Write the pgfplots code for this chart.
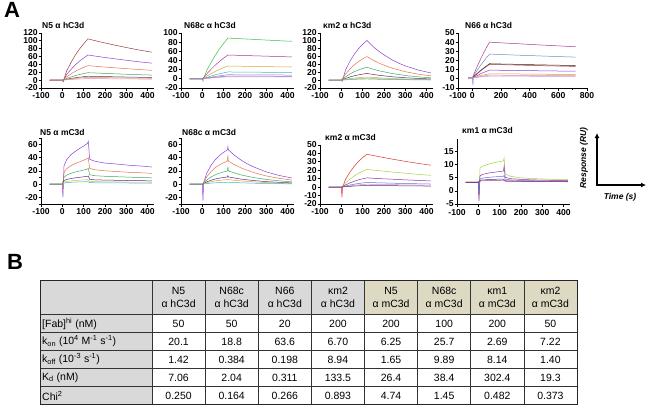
\documentclass[border=0pt]{standalone}
\usepackage{pgfplots}
\pgfplotsset{compat=1.18}
\usepackage{fontspec}
\setmainfont{Liberation Sans}
\usetikzlibrary{arrows.meta}

\definecolor{brn}{HTML}{9B3B3B}
\definecolor{vio}{HTML}{8B3FD9}
\definecolor{sal}{HTML}{E8704A}
\definecolor{grn}{HTML}{3DAA5C}
\definecolor{dpu}{HTML}{5A2A82}
\definecolor{org}{HTML}{E0A030}
\definecolor{pnk}{HTML}{D890B0}
\definecolor{lgr}{HTML}{3CC23C}
\definecolor{mag}{HTML}{A83A8A}
\definecolor{gld}{HTML}{D9A62A}
\definecolor{cyn}{HTML}{3CB8D0}
\definecolor{lvi}{HTML}{B070E0}
\definecolor{blu}{HTML}{5A70D8}
\definecolor{rd}{HTML}{E03030}
\definecolor{ygn}{HTML}{A8D040}
\definecolor{ppl}{HTML}{9030A0}
\definecolor{stb}{HTML}{6A8FD0}
\definecolor{drk}{HTML}{3A2020}
\definecolor{yel}{HTML}{D0C040}
\definecolor{lav}{HTML}{C0A0E0}
\definecolor{hgrey}{HTML}{D9D9D9}
\definecolor{beige}{HTML}{DDD9C3}

\pgfplotsset{
  spr/.style={
    scale only axis,
    axis lines=left,
    axis line style={-, line width=0.9pt},
    every tick/.append style={black, line width=0.8pt},
    tick align=outside,
    major tick length=2.5pt,
    minor tick length=1.6pt,
    ticklabel style={font=\bfseries\fontsize{8.6}{9}\selectfont, inner sep=0.6pt},
    xticklabel style={yshift=-1.2pt},
    /pgf/number format/assume math mode=true,
    /pgf/number format/1000 sep={},
    xmin=-100, xmax=430, xtick={-100,0,100,200,300,400},
    width=113pt,
    every axis plot/.append style={line width=0.5pt, mark=none},
    anchor=south west,
  },
  toprow/.style={height=55pt},
}

\begin{document}
\begin{tikzpicture}
\useasboundingbox (0pt,0pt) rectangle (650pt,-407pt);

% ---------- Panel 1: N5 a hC3d ----------
\begin{axis}[spr, toprow, at={(41pt,-88pt)}, ymin=-20, ymax=120, ytick={-20,0,...,120}]
\addplot[brn] coordinates {(-60,0)(0,0)(4,-4)(20,23.1)(40,44.1)(60,63)(80,78.8)(100,92.4)(120,105)(180,97.1)(240,89.9)(300,83)(360,76.7)(420,71.1)};
\addplot[vio] coordinates {(-60,0)(0,0)(4,-3)(20,14.1)(40,26.9)(60,38.4)(80,48)(100,56.3)(120,64)(180,59.2)(240,54.8)(300,50.6)(360,46.7)(420,43.3)};
\addplot[sal] coordinates {(-60,0)(0,0)(20,8.1)(40,15.5)(60,22.2)(80,27.8)(100,32.6)(120,37)(180,34.2)(240,31.7)(300,29.2)(360,27)(420,25)};
\addplot[grn] coordinates {(-60,0)(0,0)(20,4.2)(40,8)(60,11.4)(80,14.3)(100,16.7)(120,19)(180,17.6)(240,16.3)(300,15)(360,13.9)(420,12.9)};
\addplot[dpu] coordinates {(-60,0)(0,0)(20,2.2)(40,4.2)(60,6)(80,7.5)(100,8.8)(120,10)(180,9.3)(240,8.6)(300,7.9)(360,7.3)(420,6.8)};
\addplot[org] coordinates {(-60,0)(0,0)(20,1.5)(40,2.9)(60,4.2)(80,5.3)(100,6.2)(120,7)(180,6.5)(240,6)(300,5.5)(360,5.1)(420,4.7)};
\addplot[pnk] coordinates {(-60,0)(0,0)(20,0.9)(40,1.7)(60,2.4)(80,3)(100,3.5)(120,4)(180,3.7)(240,3.4)(300,3.2)(360,2.9)(420,2.7)};
\end{axis}

% ---------- Panel 2: N68c a hC3d ----------
\begin{axis}[spr, toprow, at={(181pt,-88pt)}, ymin=-20, ymax=100, ytick={-20,0,...,100}]
\addplot[lgr] coordinates {(-60,0)(0,0)(3,-5)(20,17.8)(40,34.7)(60,50.7)(80,65)(100,77.4)(120,89)(180,87.5)(240,86.1)(300,84.6)(360,83.2)(420,81.9)};
\addplot[mag] coordinates {(-60,0)(0,0)(20,10.4)(40,20.3)(60,29.6)(80,38)(100,45.2)(120,52)(180,51.1)(240,50.3)(300,49.5)(360,48.6)(420,47.8)};
\addplot[gld] coordinates {(-60,0)(0,0)(20,5.6)(40,10.9)(60,16)(80,20.4)(100,24.4)(120,28)(180,27.5)(240,27.1)(300,26.6)(360,26.2)(420,25.8)};
\addplot[cyn] coordinates {(-60,0)(0,0)(20,3)(40,5.9)(60,8.6)(80,11)(100,13.1)(120,15)(180,14.7)(240,14.5)(300,14.3)(360,14)(420,13.8)};
\addplot[lvi] coordinates {(-60,0)(0,0)(20,1.8)(40,3.5)(60,5.1)(80,6.6)(100,7.8)(120,9)(180,8.8)(240,8.7)(300,8.6)(360,8.4)(420,8.3)};
\addplot[blu] coordinates {(-60,0)(0,0)(20,1.2)(40,2.3)(60,3.4)(80,4.4)(100,5.2)(120,6)(180,5.9)(240,5.8)(300,5.7)(360,5.6)(420,5.5)};
\addplot[pnk] coordinates {(-60,0)(0,0)(20,0.9)(40,1.8)(60,2.6)(80,3.3)(100,3.9)(120,4.5)(180,4.4)(240,4.4)(300,4.3)(360,4.2)(420,4.1)};
\end{axis}

% ---------- Panel 3: km2 a hC3d ----------
\begin{axis}[spr, toprow, at={(320pt,-88pt)}, ymin=-20, ymax=120, ytick={-20,0,...,120}]
\addplot[vio] coordinates {(-60,0)(0,0)(4,-3)(20,26.2)(40,47.7)(60,65.1)(80,79.6)(100,91.3)(120,101)(150,85)(180,71.7)(210,61)(240,51)(270,43)(300,36.2)(360,25.8)(420,18.3)};
\addplot[sal] coordinates {(-60,0)(0,0)(20,15.5)(40,28.3)(60,38.7)(80,47.3)(100,54.2)(120,60)(150,50.5)(180,42.6)(210,36)(240,30.3)(300,21.5)(360,15.3)(420,10.9)};
\addplot[grn] coordinates {(-60,0)(0,0)(20,8.5)(40,15.6)(60,21.3)(80,26)(100,29.8)(120,33)(150,27.8)(180,23.4)(240,16.7)(300,11.8)(360,8.4)(420,6)};
\addplot[dpu] coordinates {(-60,0)(0,0)(20,4.4)(40,8)(60,11)(80,13.4)(100,15.4)(120,17)(180,12.1)(240,8.6)(300,6.1)(360,4.3)(420,3.1)};
\addplot[org] coordinates {(-60,0)(0,0)(20,2.1)(40,3.8)(60,5.2)(80,6.3)(100,7.2)(120,8)(180,5.7)(240,4)(300,2.9)(360,2)(420,1.4)};
\addplot[yel] coordinates {(-60,0)(0,0)(20,1.3)(40,2.4)(60,3.2)(80,3.9)(100,4.5)(120,5)(180,3.6)(240,2.5)(300,1.8)(360,1.3)(420,0.9)};
\addplot[cyn] coordinates {(-60,0)(0,0)(20,0.8)(40,1.4)(60,1.9)(80,2.4)(100,2.7)(120,3)(180,2.1)(240,1.5)(300,1.1)(360,0.8)(420,0.5)};
\end{axis}

% ---------- Panel 4: N66 a hC3d ----------
\begin{axis}[spr, toprow, at={(458pt,-88pt)}, width=129pt, xmin=-100, xmax=800,
  xtick={-100,0,200,400,600,800}, minor xtick={100,300,500,700}, ymin=-10, ymax=50, ytick={-10,0,...,50}]
\addplot[mag] coordinates {(-30,1)(0,1)(20,8.6)(40,15.6)(60,22.5)(80,28.8)(100,34.6)(120,40)(220,39.1)(320,38.3)(420,37.4)(520,36.6)(620,35.8)(720,35)};
\addplot[stb] coordinates {(-30,1)(0,1)(4,-7)(8,2)(20,6)(40,10.7)(60,15.2)(80,19.4)(100,23.3)(120,27)(220,26.4)(320,25.8)(420,25.3)(520,24.7)(620,24.2)(720,23.7)};
\addplot[drk] coordinates {(-30,1)(0,1)(20,4)(40,6.7)(60,9.4)(80,11.9)(100,14.2)(120,16.5)(220,16.1)(320,15.8)(420,15.4)(520,15.1)(620,14.8)(720,14.5)};
\addplot[brn] coordinates {(-30,1)(0,1)(20,3.8)(40,6.4)(60,9)(80,11.4)(100,13.6)(120,15.8)(220,15.4)(320,15)(420,14.6)(520,14.2)(620,13.9)(720,13.6)};
\addplot[vio] coordinates {(-30,1)(0,1)(20,2.6)(40,4.1)(60,5.7)(80,7.1)(100,8.3)(120,9.5)(220,9.3)(320,9.1)(420,8.9)(520,8.7)(620,8.5)(720,8.3)};
\addplot[org] coordinates {(-30,1)(0,1)(20,1.8)(40,2.7)(60,3.5)(80,4.2)(100,4.9)(120,5.5)(220,5.4)(320,5.3)(420,5.1)(520,5)(620,4.9)(720,4.8)};
\addplot[pnk] coordinates {(-30,1)(0,1)(20,1.6)(40,2.1)(60,2.7)(80,3.1)(100,3.6)(120,4)(220,3.9)(320,3.8)(420,3.7)(520,3.7)(620,3.6)(720,3.5)};
\addplot[lav] coordinates {(-30,1)(0,1)(20,1.4)(40,1.8)(60,2.1)(80,2.4)(100,2.7)(120,3)(220,2.9)(320,2.9)(420,2.8)(520,2.7)(620,2.7)(720,2.6)};
\end{axis}

% ---------- Panel 5: N5 a mC3d ----------
\begin{axis}[spr, height=66pt, at={(41pt,-204pt)}, ymin=-30, ymax=70, ytick={-20,0,...,60}, minor ytick={-30,-10,10,30,50,70}]
\addplot[vio] coordinates {(-60,0)(0,0)(3,-20)(8,28)(20,37)(40,44.6)(60,49.6)(80,54)(100,57.7)(118,62)(122,65)(128,38)(150,35)(200,32)(260,30.4)(320,28.5)(380,27.3)(420,26)};
\addplot[sal] coordinates {(-60,0)(0,0)(3,-5)(8,17.5)(20,23.4)(40,28.1)(60,31.2)(80,33.9)(100,36.3)(118,39)(122,40)(128,24)(150,22)(200,20.3)(260,19.1)(320,17.9)(380,17.2)(420,16.4)};
\addplot[grn] coordinates {(-60,0)(0,0)(8,10.4)(20,13.8)(40,16.6)(60,18.4)(80,20)(100,21.4)(118,23)(122,24)(128,14.3)(150,12.9)(200,12)(260,11.3)(320,10.6)(380,10.1)(420,9.7)};
\addplot[dpu] coordinates {(-60,0)(0,0)(8,5.4)(20,7.2)(40,8.6)(60,9.6)(80,10.4)(100,11.2)(118,12)(122,12.5)(128,7.4)(150,6.7)(200,6.2)(260,5.9)(320,5.5)(380,5.3)(420,5)};
\addplot[yel] coordinates {(-60,0)(0,0)(8,3.2)(20,4.2)(40,5)(60,5.6)(80,6.1)(100,6.5)(118,7)(128,4.3)(150,3.9)(200,3.6)(260,3.4)(320,3.2)(380,3.1)(420,2.9)};
\addplot[cyn] coordinates {(-60,0)(0,0)(8,1.8)(20,2.4)(40,2.9)(60,3.2)(80,3.5)(100,3.7)(118,4)(128,2.5)(150,2.2)(200,2.1)(260,2)(320,1.8)(380,1.8)(420,1.7)};
\end{axis}

% ---------- Panel 6: N68c a mC3d ----------
\begin{axis}[spr, height=66pt, at={(181pt,-204pt)}, ymin=-30, ymax=70, ytick={-20,0,...,60}, minor ytick={-30,-10,10,30,50,70}]
\addplot[vio] coordinates {(-60,0)(0,0)(3,-25)(6,2)(20,16.1)(40,28.1)(60,36.9)(80,43.5)(100,48.4)(118,52)(120,57)(122,52)(150,44)(180,36.9)(210,31)(240,26.3)(300,18.6)(360,13.3)(420,9.4)};
\addplot[sal] coordinates {(-60,0)(0,0)(3,-3)(6,1)(20,10.9)(40,18.9)(60,24.9)(80,29.3)(100,32.6)(118,35)(120,44)(122,35)(150,29.6)(180,24.9)(240,17.7)(300,12.5)(360,8.9)(420,6.3)};
\addplot[grn] coordinates {(-60,0)(0,0)(20,6.2)(40,10.8)(60,14.2)(80,16.7)(100,18.6)(118,20)(120,27)(122,20)(180,14.2)(240,10.1)(300,7.2)(360,5.1)(420,3.6)};
\addplot[dpu] coordinates {(-60,0)(0,0)(20,3.4)(40,5.9)(60,7.8)(80,9.2)(100,10.2)(118,11)(120,13)(122,11)(180,7.8)(240,5.6)(300,3.9)(360,2.8)(420,2)};
\addplot[org] coordinates {(-60,0)(0,0)(20,2.2)(40,3.8)(60,5)(80,5.9)(100,6.5)(120,7)(180,5)(240,3.5)(300,2.5)(360,1.8)(420,1.3)};
\addplot[cyn] coordinates {(-60,0)(0,0)(20,0.9)(40,1.6)(60,2.1)(80,2.5)(100,2.8)(120,3)(180,2.1)(240,1.5)(300,1.1)(360,0.8)(420,0.5)};
\end{axis}

% ---------- Panel 7: km2 a mC3d ----------
\begin{axis}[spr, height=59pt, at={(320pt,-204pt)}, ymin=-20, ymax=50, ytick={-20,-10,...,50}]
\addplot[rd] coordinates {(-60,0)(0,0)(3,-12)(6,0)(20,9.4)(40,17.6)(60,24.6)(80,30.4)(100,35.1)(120,39)(180,36)(240,33.2)(300,30.6)(360,28.2)(420,26)};
\addplot[ygn] coordinates {(-60,0)(0,0)(20,5)(40,9.5)(60,13.2)(80,16.4)(100,18.9)(120,21)(180,19.4)(240,17.9)(300,16.5)(360,15.2)(420,14)};
\addplot[ppl] coordinates {(-60,0)(0,0)(20,2.6)(40,5)(60,6.9)(80,8.6)(100,9.9)(120,11)(180,10.1)(240,9.4)(300,8.6)(360,8)(420,7.3)};
\addplot[blu] coordinates {(-60,0)(0,0)(20,1.3)(40,2.5)(60,3.5)(80,4.3)(100,5)(120,5.5)(180,5.1)(240,4.7)(300,4.3)(360,4)(420,3.7)};
\addplot[pnk] coordinates {(-60,0)(0,0)(20,0.8)(40,1.6)(60,2.2)(80,2.7)(100,3.2)(120,3.5)(180,3.2)(240,3)(300,2.7)(360,2.5)(420,2.3)};
\addplot[dpu] coordinates {(-60,0)(0,0)(20,0.5)(40,0.9)(60,1.3)(80,1.6)(100,1.8)(120,2)(180,1.8)(240,1.7)(300,1.6)(360,1.4)(420,1.3)};
\end{axis}

% ---------- Panel 8: km1 a mC3d ----------
\begin{axis}[spr, height=65.4pt, at={(457pt,-204pt)}, ymin=-5, ymax=20, ytick={-5,0,...,15},
  xticklabel style={yshift=-0.8pt}]
\addplot[ygn] coordinates {(-60,3.5)(0,3.5)(3,-3)(8,8.8)(20,9.5)(40,10)(60,10.5)(80,10.9)(100,11.2)(118,11.5)(121,12.5)(126,6.5)(150,5.6)(200,5)(260,4.7)(320,4.5)(380,4.4)(420,4.3)};
\addplot[ppl] coordinates {(-60,3.3)(0,3.3)(3,-4)(8,5.8)(20,6.3)(40,6.7)(60,7)(80,7.2)(100,7.4)(118,7.6)(121,9.5)(126,5.2)(150,4.7)(200,4.4)(260,4.2)(320,4.1)(380,4)(420,3.9)};
\addplot[blu] coordinates {(-60,3.2)(0,3.2)(3,-1)(8,4.6)(20,4.9)(40,5.1)(60,5.3)(80,5.4)(100,5.5)(118,5.6)(121,6)(126,4.5)(150,4.2)(200,4)(260,3.9)(320,3.8)(380,3.8)(420,3.7)};
\addplot[dpu] coordinates {(-60,3.3)(0,3.3)(8,4)(20,4.2)(60,4.4)(100,4.5)(118,4.5)(126,3.9)(200,3.7)(420,3.6)};
\addplot[mag] coordinates {(-60,3.4)(0,3.4)(8,3.8)(60,4)(118,4.1)(126,3.7)(420,3.5)};
\end{axis}

\begin{scope}[x=1pt, y=-1pt]
% panel letters
\node[anchor=west, font=\bfseries\fontsize{22}{24}\selectfont, inner sep=0pt] at (4,10) {A};
\node[anchor=west, font=\bfseries\fontsize{22}{24}\selectfont, inner sep=0pt] at (7,262) {B};
% titles
\begin{scope}[every node/.style={anchor=west, inner sep=0pt, font=\bfseries\fontsize{8.5}{10}\selectfont}]
\node at (42,25) {N5 α hC3d};
\node at (184,25) {N68c α hC3d};
\node at (323,25) {κm2 α hC3d};
\node at (465,25) {N66 α hC3d};
\node at (40,132) {N5 α mC3d};
\node at (182,132) {N68c α mC3d};
\node at (325,137) {κm2 α mC3d};
\node at (462,130) {κm1 α mC3d};
\end{scope}
% scale arrows
\draw[line width=1.6pt, -{Latex[length=5pt,width=5pt]}] (597,185) -- (597,133);
\draw[line width=1.6pt, -{Latex[length=5pt,width=5pt]}] (596.2,185) -- (646,185);
\node[rotate=90, font=\bfseries\itshape\fontsize{8.5}{10}\selectfont, inner sep=0pt] at (584,158) {Response (RU)};
\node[font=\bfseries\itshape\fontsize{8.5}{10}\selectfont, inner sep=0pt] at (620,197) {Time (s)};

% ---------- Table ----------
\fill[hgrey] (40,280) rectangle (152,404);
\fill[hgrey] (152,280) rectangle (364.5,314);
\fill[beige] (364.5,280) rectangle (577,314);
\foreach \yy in {314,332,350,368,386} \draw[line width=0.7pt, black!80] (40,\yy) -- (577,\yy);
\foreach \xx in {152,205.125,258.25,311.375,364.5,417.625,470.75,523.875} \draw[line width=0.7pt, black!80] (\xx,280) -- (\xx,404);
\draw[line width=1pt, black!85] (40,280) rectangle (577,404);

\begin{scope}[every node/.style={font=\fontsize{10.5}{12.5}\selectfont, inner sep=0pt}]
\foreach \n/\t [count=\i from 0] in {N5/hC3d, N68c/hC3d, N66/hC3d, κm2/hC3d, N5/mC3d, N68c/mC3d, κm1/mC3d, κm2/mC3d}
  \node[align=center] at (178.56+53.125*\i,297.5) {\n\\α \t};
\foreach \v [count=\i from 0] in {50,50,20,200,200,100,200,50}
  \node at (178.56+53.125*\i,323.5) {\v};
\foreach \v [count=\i from 0] in {20.1,18.8,63.6,6.70,6.25,25.7,2.69,7.22}
  \node at (178.56+53.125*\i,341.5) {\v};
\foreach \v [count=\i from 0] in {1.42,0.384,0.198,8.94,1.65,9.89,8.14,1.40}
  \node at (178.56+53.125*\i,359.5) {\v};
\foreach \v [count=\i from 0] in {7.06,2.04,0.311,133.5,26.4,38.4,302.4,19.3}
  \node at (178.56+53.125*\i,377.5) {\v};
\foreach \v [count=\i from 0] in {0.250,0.164,0.266,0.893,4.74,1.45,0.482,0.373}
  \node at (178.56+53.125*\i,395.5) {\v};
\node[anchor=west] at (42,323.5) {[Fab]\textsuperscript{hi} (nM)};
\node[anchor=west] at (42,341.5) {k\textsubscript{on} (10\textsuperscript{4} M\textsuperscript{-1} s\textsuperscript{-1})};
\node[anchor=west] at (42,359.5) {k\textsubscript{off} (10\textsuperscript{-3} s\textsuperscript{-1})};
\node[anchor=west] at (42,377.5) {K\textsubscript{d} (nM)};
\node[anchor=west] at (42,395.5) {Chi\textsuperscript{2}};
\end{scope}
\end{scope}
\end{tikzpicture}
\end{document}
